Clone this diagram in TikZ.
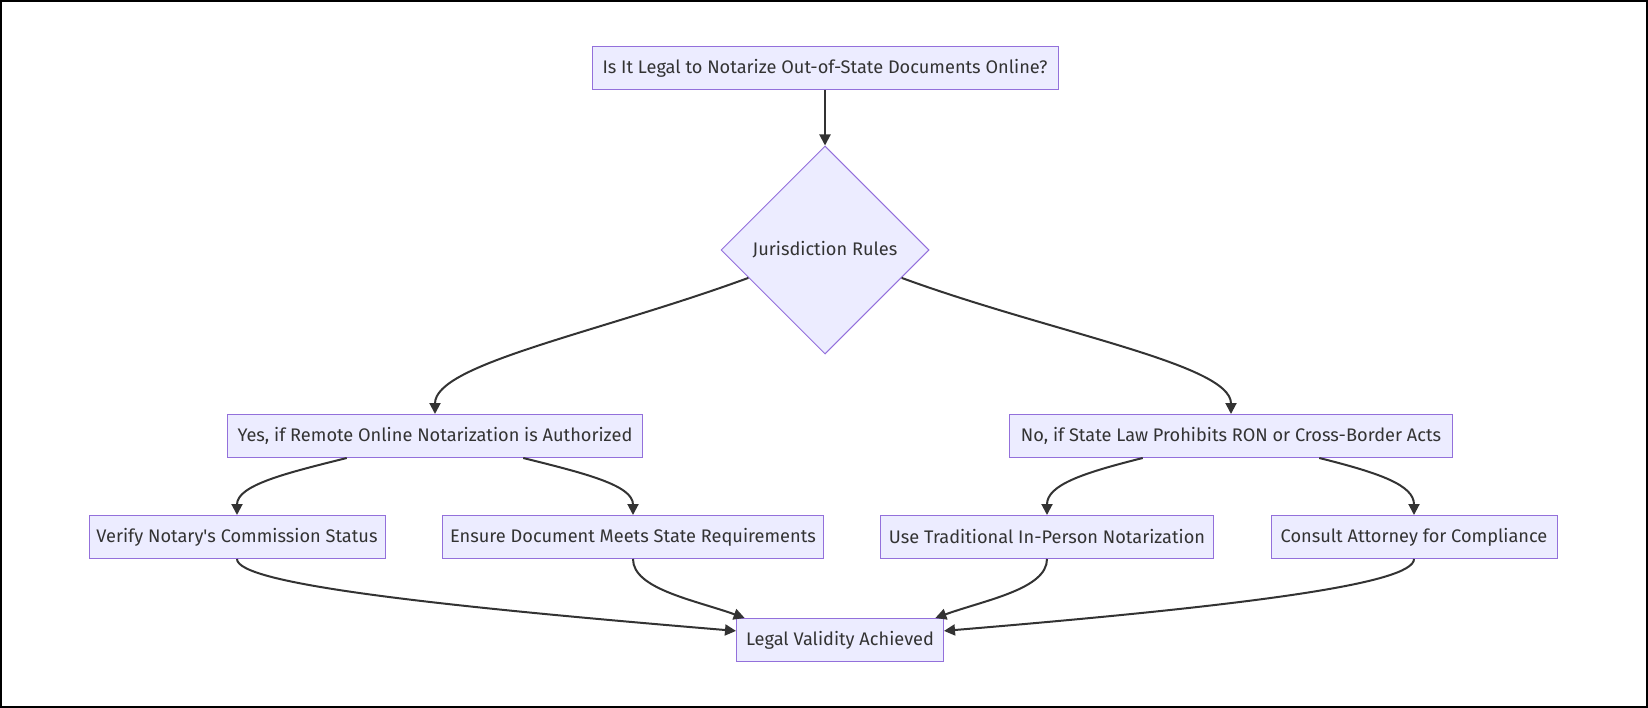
\documentclass[tikz,border=0pt]{standalone}
\usepackage{fontspec}
\setmainfont{Fira Sans}
\usetikzlibrary{arrows.meta,positioning,shapes.geometric}
\definecolor{BoxFill}{HTML}{ECECFF}
\definecolor{BoxLine}{HTML}{9370DB}
\definecolor{LinkGrey}{HTML}{333333}

\begin{document}
\begin{tikzpicture}[x=1pt,y=-1pt,
  every node/.style={font=\fontsize{18.2}{22}\selectfont,text=LinkGrey},
  flowbox/.style={draw=BoxLine,fill=BoxFill,line width=1pt,minimum height=43pt,inner xsep=0pt},
  choice/.style={diamond,draw=BoxLine,fill=BoxFill,line width=1pt,minimum size=208pt,inner sep=0pt},
  link/.style={draw=LinkGrey,line width=2pt,-{Triangle[length=11pt,width=11pt]}}]
  \useasboundingbox (0,0) rectangle (1648,708);
  \draw[line width=2pt] (1,1) rectangle (1647,707);
  \node[flowbox,minimum width=466pt] (quest) at (825,68) {Is It Legal to Notarize Out-of-State Documents Online?};
  \node[choice] (rules) at (825,250) {Jurisdiction Rules};
  \node[flowbox,minimum width=415pt] (yes) at (435,436) {Yes, if Remote Online Notarization is Authorized};
  \node[flowbox,minimum width=443pt] (no) at (1231,436) {No, if State Law Prohibits RON or Cross-Border Acts};
  \node[flowbox,minimum width=296pt] (verify) at (237,537) {Verify Notary\textquotesingle s Commission Status};
  \node[flowbox,minimum width=381pt] (ensure) at (633,537) {Ensure Document Meets State Requirements};
  \node[flowbox,minimum width=333pt] (inperson) at (1047,537) {Use Traditional In-Person Notarization};
  \node[flowbox,minimum width=286pt] (consult) at (1414,537) {Consult Attorney for Compliance};
  \node[flowbox,minimum width=207pt] (valid) at (840,640) {Legal Validity Achieved};
  \draw[link] (quest) -- (rules);
  \draw[link] (rules.200) .. controls +(-150,55) and +(0,-50) .. (yes.north);
  \draw[link] (rules.340) .. controls +(150,55) and +(0,-50) .. (no.north);
  \draw[link] (yes.194) .. controls +(-60,15) and +(0,-30) .. (verify.north);
  \draw[link] (yes.346) .. controls +(60,15) and +(0,-30) .. (ensure.north);
  \draw[link] (no.194) .. controls +(-60,15) and +(0,-30) .. (inperson.north);
  \draw[link] (no.346) .. controls +(60,15) and +(0,-30) .. (consult.north);
  \draw[link] (verify.south) .. controls +(0,25) and +(-300,-25) .. (valid.175);
  \draw[link] (ensure.south) .. controls +(0,30) and +(-50,-18) .. (valid.167);
  \draw[link] (inperson.south) .. controls +(0,30) and +(50,-18) .. (valid.13);
  \draw[link] (consult.south) .. controls +(0,25) and +(300,-25) .. (valid.5);
\end{tikzpicture}
\end{document}
